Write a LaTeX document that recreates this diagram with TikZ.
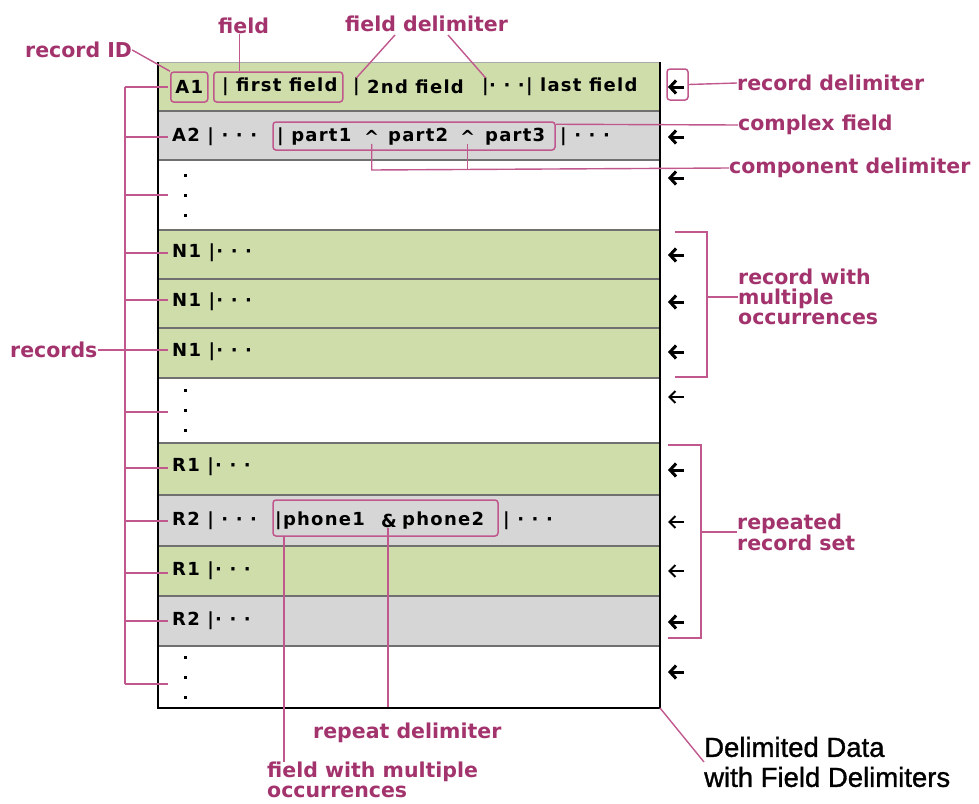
\documentclass[tikz,border=0pt]{standalone}
\usepackage{fontspec}
\setmainfont{DejaVu Sans}
\newfontfamily\datafont{DejaVu Sans}[LetterSpace=7]
\newfontfamily\titlefont{Liberation Sans}[FakeBold=1.2]
\usetikzlibrary{positioning,arrows.meta}
\definecolor{rowgreen}{HTML}{CEDDAA}
\definecolor{rowgray}{HTML}{D6D6D6}
\definecolor{labelpink}{HTML}{A3336C}
\definecolor{calloutpink}{HTML}{C0588E}
\definecolor{rulegray}{HTML}{707070}
\tikzset{
  greenrow/.style={fill=rowgreen},
  grayrow/.style={fill=rowgray},
  rowtext/.style={anchor=west,inner sep=0pt,font=\datafont\fontsize{18}{18}\selectfont\bfseries},
  tag/.style={anchor=west,inner sep=0pt,align=left,text=labelpink,font=\fontsize{20.5}{20}\selectfont\bfseries},
  callout/.style={draw=calloutpink,line width=1.4pt},
  markbox/.style={draw=calloutpink,line width=1.5pt,rounded corners=3pt,inner sep=0pt},
  recarrow/.style={-{Straight Barb[length=6pt,width=13pt,line width=3pt]},line width=3pt,black},
  recarrowthin/.style={-{Straight Barb[length=6pt,width=12pt,line width=2pt]},line width=2pt,black},
  gapdot/.style={fill=black,inner sep=0pt,minimum size=3pt}
}

\begin{document}
\begin{tikzpicture}[x=1pt,y=-1pt]
  \useasboundingbox (0,0) rectangle (979,803);
  % record rows
  \foreach \ya/\yb/\rowsty in {62/111/greenrow,111/160/grayrow,230/279/greenrow,279/328/greenrow,328/378/greenrow,443/495/greenrow,495/546/grayrow,546/596/greenrow,596/646/grayrow}
    \path[\rowsty] (158,\ya) rectangle (660,\yb);
  \foreach \ya in {111,160,230,279,328,378,443,495,546,596,646}
    \draw[rulegray,line width=1.2pt] (158,\ya) -- (660,\ya);
  \draw[rulegray!60] (158,62) -- (660,62);
  \draw[black,line width=1.2pt] (158,62) -- (158,708) -- (660,708) -- (660,62);

  % row A1
  \node[rowtext,markbox,minimum width=37pt,minimum height=30pt] (a1) at (170,87) {A1};
  \node[rowtext,markbox,minimum width=129pt,minimum height=30pt] (firstfield) at (213,87) {\,| first field};
  \node[rowtext] (bar1) at (353,87) {|};
  \node[rowtext] (f2) at (367,87) {2nd field};
  \node[rowtext] (bar2) at (482,87) {|};
  \node[rowtext] (lastf) at (489,87) {· · ·| last field};

  % row A2
  \node[rowtext] (a2) at (172,137) {A2 | · · ·};
  \node[markbox,minimum width=282pt,minimum height=28pt] (cplx) at (414,136) {};
  \node[rowtext] (p1) at (277,137) {| part1};
  \node[rowtext] (caret1) at (364,137) {\^{}};
  \node[rowtext] (p2) at (388,137) {part2};
  \node[rowtext] (caret2) at (460,137) {\^{}};
  \node[rowtext] (p3) at (485,137) {part3};
  \node[rowtext] (a2rest) at (560,137) {| · · ·};

  % N rows
  \foreach \nm/\y in {n1a/253,n1b/302,n1c/352}
    \node[rowtext] (\nm) at (172,\y) {N1 |· · ·};

  % R rows
  \node[rowtext] (r1a) at (172,467) {R1 |· · ·};
  \node[rowtext] (r2a) at (172,521) {R2 | · · ·};
  \node[markbox,minimum width=225pt,minimum height=36pt] (phonebox) at (385.5,518) {};
  \node[rowtext] (ph1) at (275,521) {|phone1};
  \node[rowtext] (amp) at (381,521) {\&};
  \node[rowtext] (ph2) at (402,521) {phone2};
  \node[rowtext] (r2rest) at (503,521) {| · · ·};
  \node[rowtext] (r1b) at (172,571) {R1 |· · ·};
  \node[rowtext] (r2b) at (172,621) {R2 |· · ·};

  % gaps
  \foreach \g/\ya in {1/175,2/390,3/657}
    \foreach \k in {0,1,2}
      \node[gapdot] (gap\g-\k) at (185,\ya+20*\k) {};

  % record delimiters
  \foreach \y in {87,137,178,255,302,352,470,622,672}
    \draw[recarrow] (684,\y) -- ++(-16,0);
  \foreach \y in {397,522,571}
    \draw[recarrowthin] (684,\y) -- ++(-16,0);

  % labels
  \node[tag] (recid) at (25,50) {record ID};
  \node[tag] (fieldlbl) at (218,26) {field};
  \node[tag] (fdelim) at (345,24) {field delimiter};
  \node[tag] (recdelim) at (737,83) {record delimiter};
  \node[tag] (cplxlbl) at (738,125) {complex field};
  \node[tag] (compdelim) at (729,168) {component delimiter};
  \node[tag] (multi) at (738,297) {record with\\multiple\\occurrences};
  \node[tag,font=\fontsize{20.5}{21}\selectfont\bfseries] (repset) at (737,532) {repeated\\record set};
  \node[tag] (records) at (10,350) {records};
  \node[tag] (repdelim) at (313,733) {repeat delimiter};
  \node[tag] (fieldmulti) at (267,780) {field with multiple\\occurrences};
  \node[anchor=west,align=left,inner sep=0pt,font=\titlefont\fontsize{27.5}{30}\selectfont] (title) at (704,762) {Delimited Data\\with Field Delimiters};

  % callouts
  \draw[callout] (recid.east) -- (a1.north west);
  \draw[callout] (fieldlbl.south) ++(-4,0) coordinate (fieldfoot) -- (fieldfoot |- firstfield.north);
  \draw[callout] (395,35) -- (bar1.north);
  \draw[callout] (448,35) -- (bar2.north);
  \node[markbox,minimum width=21pt,minimum height=31pt] (rdbox) at (677.5,84.5) {};
  \draw[callout] (rdbox.east) -- (recdelim.west);
  \draw[callout] (cplx.north east) ++(0,3) -- (cplxlbl.west);
  \coordinate (compjoin) at (caret1.south |- 0,170);
  \draw[callout] (caret1.south) -- (compjoin) -- (compdelim.west);
  \draw[callout] (caret2.south) -- (caret2.south |- compjoin);
  \coordinate (brktop) at (125,87);
  \coordinate (brkbot) at (125,684);
  \draw[callout] (brktop) -- (brkbot);
  \foreach \y in {87,137,195,253,300,350,412,468,521,573,621,684}
    \draw[callout] (125,\y) -- ++(43,0);
  \draw[callout] (records.east) -- (brktop |- records.east);
  \draw[callout] (675,232) -- (707,232) -- (707,377) -- (675,377);
  \draw[callout] (707,297) -- (multi.west);
  \draw[callout] (668,445) -- (701,445) -- (701,638) -- (668,638);
  \draw[callout] (701,532) -- (repset.west);
  \coordinate (ampfoot) at (388,528);
  \coordinate (tblend) at (388,707);
  \draw[callout] (ampfoot) -- (tblend);
  \coordinate (fwmtop) at (284,536);
  \draw[callout] (fwmtop) -- (fwmtop |- fieldmulti.north);
  \draw[callout] (660,708) -- (title.west);
\end{tikzpicture}
\end{document}
